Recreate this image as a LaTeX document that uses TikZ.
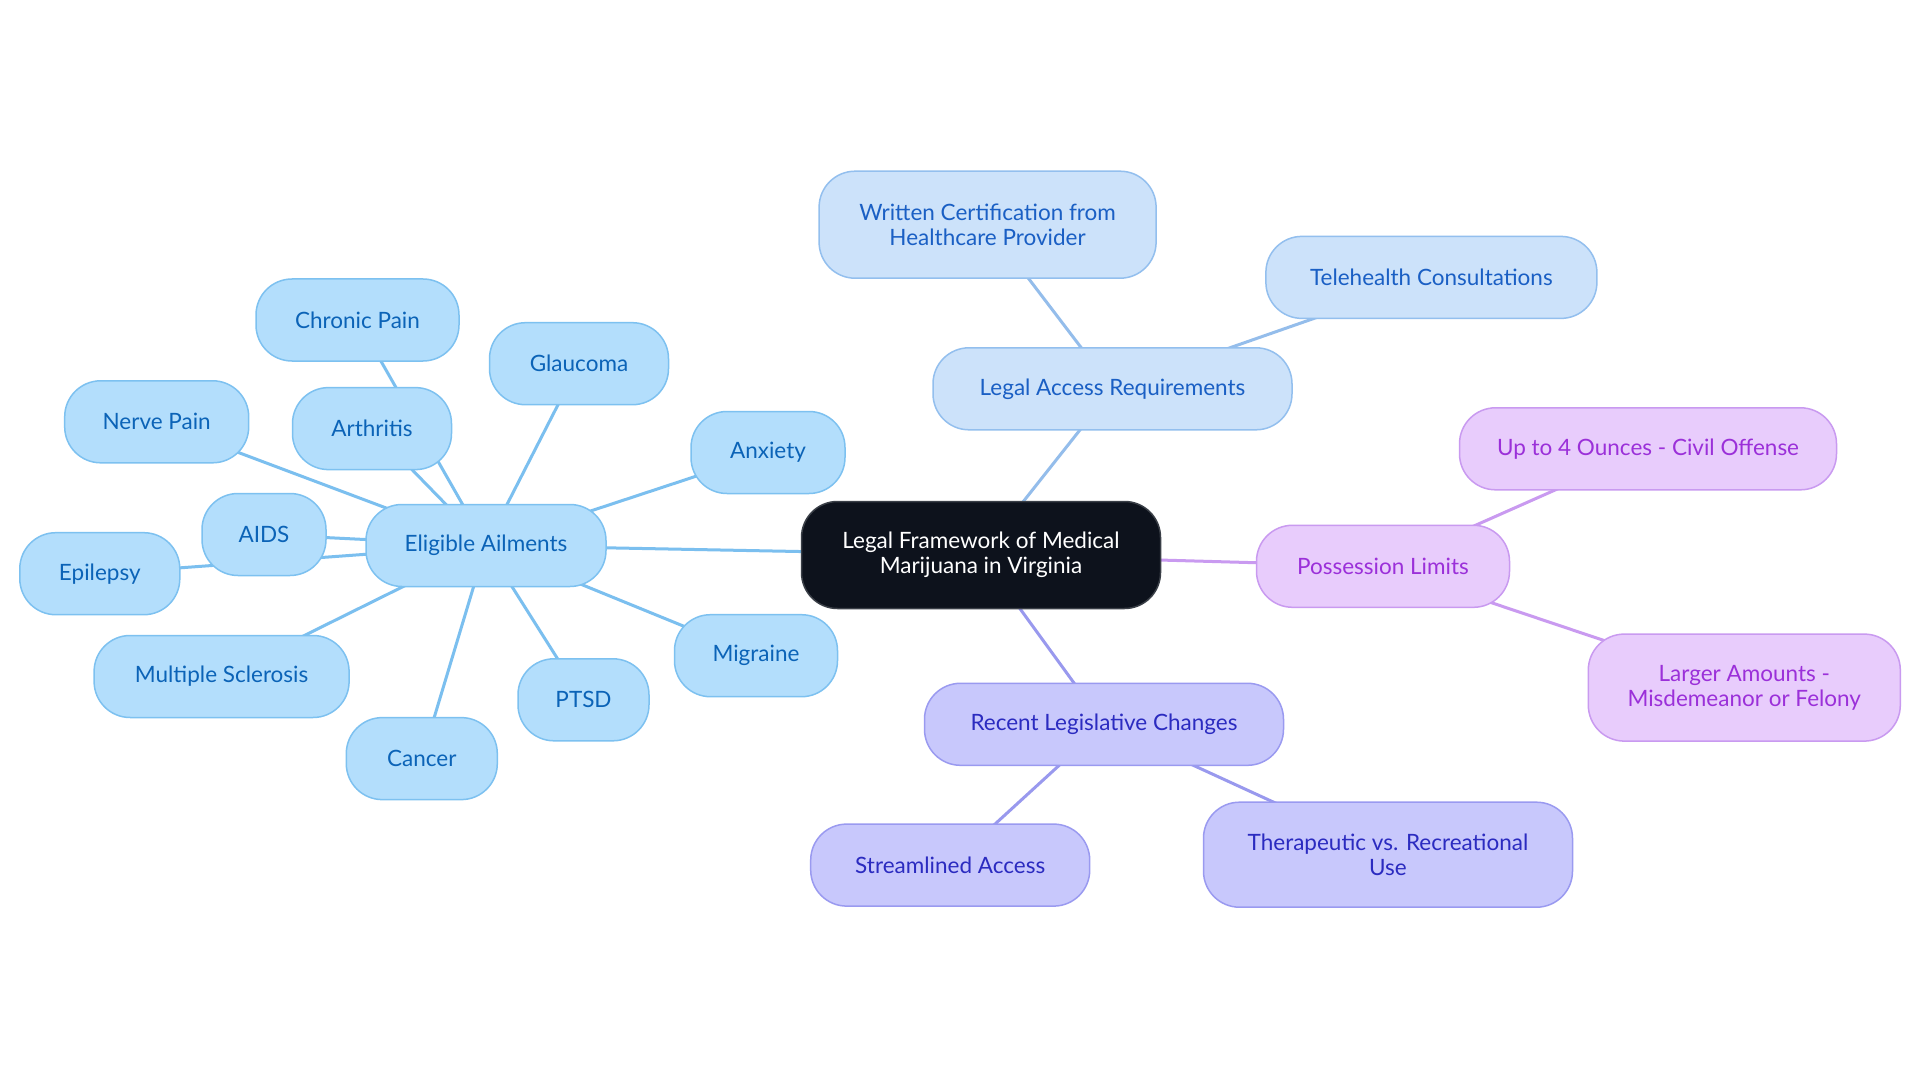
\documentclass[tikz,border=0pt]{standalone}
\usepackage{fontspec}
\setmainfont{Lato}
\usetikzlibrary{backgrounds}
\definecolor{ailfill}{HTML}{B3DEFC}
\definecolor{ailborder}{HTML}{7DC1F0}
\definecolor{ailtext}{HTML}{0B63B7}
\definecolor{ailline}{HTML}{7BBFEF}
\definecolor{accfill}{HTML}{CCE2FA}
\definecolor{accborder}{HTML}{93BFEE}
\definecolor{acctext}{HTML}{1A5FC4}
\definecolor{accline}{HTML}{94BDEB}
\definecolor{posfill}{HTML}{E8CCFC}
\definecolor{posborder}{HTML}{C99AF0}
\definecolor{postext}{HTML}{9B30D9}
\definecolor{posline}{HTML}{C99AF0}
\definecolor{recfill}{HTML}{C8C8FC}
\definecolor{recborder}{HTML}{9A9AF0}
\definecolor{rectext}{HTML}{2B2BC0}
\definecolor{recline}{HTML}{9999EE}
\definecolor{rootfill}{HTML}{0D121C}
\definecolor{rootborder}{HTML}{3A3F47}
\tikzset{
  basebox/.style={rounded corners=36pt, line width=1.5pt, minimum height=82pt,
    inner sep=0pt, align=center, font=\fontsize{22.5}{25}\selectfont},
  ailbox/.style={basebox, fill=ailfill, draw=ailborder, text=ailtext},
  accbox/.style={basebox, fill=accfill, draw=accborder, text=acctext},
  posbox/.style={basebox, fill=posfill, draw=posborder, text=postext},
  recbox/.style={basebox, fill=recfill, draw=recborder, text=rectext},
  rootbox/.style={basebox, fill=rootfill, draw=rootborder, text=white},
  link/.style={line width=3pt}
}
\begin{document}
\begin{tikzpicture}[x=1pt,y=-1pt]
\useasboundingbox (0,0) rectangle (1920,1083);

\node[rootbox, minimum width=359pt, minimum height=107pt] (root) at (981,555) {Legal Framework of Medical\\Marijuana in Virginia};

\node[ailbox, minimum width=240pt] (ail) at (486,545.5) {Eligible Ailments};
\node[ailbox, minimum width=203pt] (chronic) at (357.5,320) {Chronic Pain};
\node[ailbox, minimum width=179pt] (glaucoma) at (579,363.7) {Glaucoma};
\node[ailbox, minimum width=154pt] (anxiety) at (768,452.5) {Anxiety};
\node[ailbox, minimum width=159pt] (arthritis) at (372,428.6) {Arthritis};
\node[ailbox, minimum width=184pt] (nerve) at (156.7,421.8) {Nerve Pain};
\node[ailbox, minimum width=124pt] (aids) at (264,534.5) {AIDS};
\node[ailbox, minimum width=160pt] (epilepsy) at (99.8,573.7) {Epilepsy};
\node[ailbox, minimum width=255pt] (ms) at (221.6,676.5) {Multiple Sclerosis};
\node[ailbox, minimum width=151pt] (cancer) at (421.8,758.6) {Cancer};
\node[ailbox, minimum width=131pt] (ptsd) at (583.5,699.8) {PTSD};
\node[ailbox, minimum width=163pt] (migraine) at (756,655.7) {Migraine};

\node[accbox, minimum width=359pt] (acc) at (1112.5,388.8) {Legal Access Requirements};
\node[accbox, minimum width=337pt, minimum height=107pt] (written) at (987.6,224.7) {Written Certification from\\Healthcare Provider};
\node[accbox, minimum width=331pt] (tele) at (1431.4,277.4) {Telehealth Consultations};

\node[posbox, minimum width=253pt] (pos) at (1383,566.3) {Possession Limits};
\node[posbox, minimum width=377pt] (up4) at (1648,448.8) {Up to 4 Ounces - Civil Offense};
\node[posbox, minimum width=312pt, minimum height=107pt] (larger) at (1744.3,687.6) {Larger Amounts -\\Misdemeanor or Felony};

\node[recbox, minimum width=359pt] (rec) at (1104,724.3) {Recent Legislative Changes};
\node[recbox, minimum width=279pt] (stream) at (950.2,865.1) {Streamlined Access};
\node[recbox, minimum width=369pt, minimum height=105pt] (thera) at (1388,854.7) {Therapeutic vs. Recreational\\Use};

\begin{scope}[on background layer]
\fill[white] (0,0) rectangle (1920,1083);
\draw[link, ailline] (root.center) -- (ail.center);
\foreach \n in {chronic,glaucoma,anxiety,arthritis,nerve,aids,epilepsy,ms,cancer,ptsd,migraine}
  \draw[link, ailline] (ail.center) -- (\n.center);
\draw[link, accline] (root.center) -- (acc.center);
\draw[link, accline] (acc.center) -- (written.center);
\draw[link, accline] (acc.center) -- (tele.center);
\draw[link, posline] (root.center) -- (pos.center);
\draw[link, posline] (pos.center) -- (up4.center);
\draw[link, posline] (pos.center) -- (larger.center);
\draw[link, recline] (root.center) -- (rec.center);
\draw[link, recline] (rec.center) -- (stream.center);
\draw[link, recline] (rec.center) -- (thera.center);
\end{scope}
\end{tikzpicture}
\end{document}
